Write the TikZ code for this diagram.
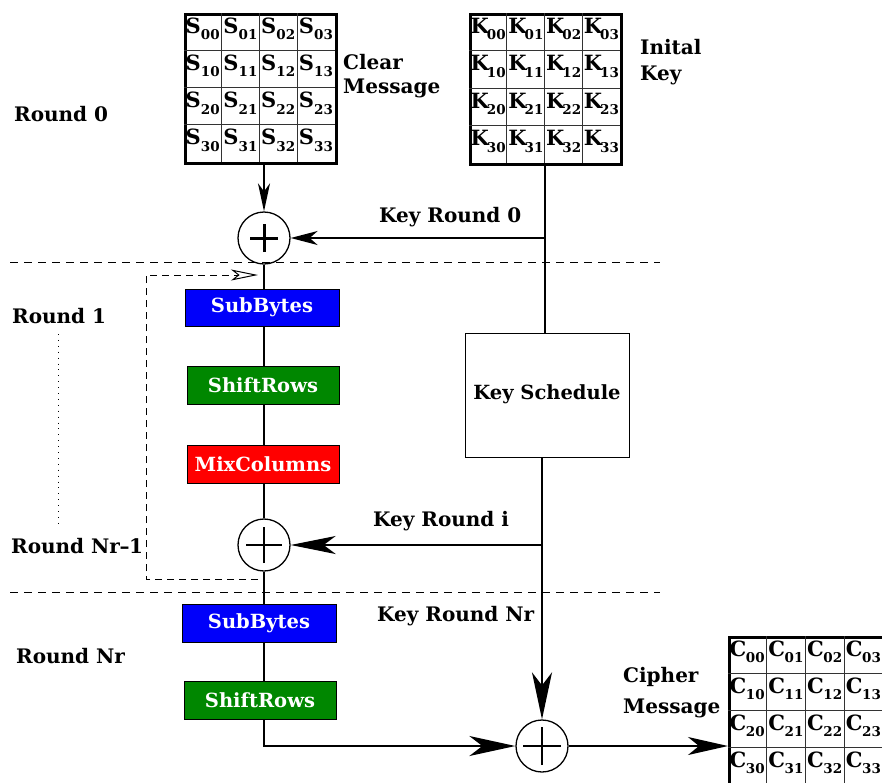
\documentclass[tikz,border=0pt]{standalone}
\usepackage{fontspec}
\setmainfont{DejaVu Serif}
\usetikzlibrary{arrows.meta,calc}

\definecolor{sbblue}{RGB}{0,0,250}
\definecolor{srgreen}{RGB}{0,135,0}
\definecolor{mcred}{RGB}{255,0,0}

\tikzset{
  lbl/.style={font=\fontsize{20}{20}\selectfont\bfseries, inner sep=0pt, anchor=base west},
  opbox/.style={draw=black, line width=0.9pt, minimum width=152pt, minimum height=38pt,
    inner sep=0pt, text=white, font=\fontsize{19.5}{19.5}\selectfont\bfseries},
  keybox/.style={draw=black, line width=0.9pt, fill=white, minimum width=164pt,
    minimum height=124pt, inner sep=0pt, font=\fontsize{19.5}{19.5}\selectfont\bfseries},
  statebox/.style={draw=black, inner sep=0pt, anchor=north west},
  gridline/.style={line width=0.9pt, black!80},
  entry/.style={inner sep=0pt, anchor=base west, font=\fontsize{21}{21}\selectfont\bfseries},
  xorcirc/.style={circle, draw, line width=1.3pt, minimum size=52pt, inner sep=0pt},
  xorplus/.style 2 args={path picture={
      \draw[line width=#2]
        ([xshift=-#1]path picture bounding box.center) -- ([xshift=#1]path picture bounding box.center)
        ([yshift=-#1]path picture bounding box.center) -- ([yshift=#1]path picture bounding box.center);}},
  flow/.style={line width=1.8pt},
  keyline/.style={line width=2pt},
  roundsep/.style={dash pattern=on 8pt off 6pt, line width=0.9pt},
  loopline/.style={dash pattern=on 7pt off 5pt, line width=0.9pt},
}

% state matrix: name, letter, left, top, cell width, cell height, border width, letter kern
\newcommand\aesstate[8]{%
  \node[statebox, line width=#7, minimum width=4*#5 pt, minimum height=4*#6 pt] (#1) at (#3,#4) {};
  \foreach \k in {1,2,3}{%
    \draw[gridline] (#3+\k*#5, #4) -- (#3+\k*#5, #4+4*#6);
    \draw[gridline] (#3, #4+\k*#6) -- (#3+4*#5, #4+\k*#6);
  }
  \foreach \r in {0,1,2,3}{%
    \foreach \c in {0,1,2,3}{%
      \node[entry] at (#3+\c*#5+1.5, #4+\r*#6+20)
        {#2\kern#8\raisebox{-6.5pt}{\fontsize{13.5}{13.5}\selectfont\bfseries\r\c}};
    }
  }
}

\begin{document}
\begin{tikzpicture}[x=1pt, y=-1pt]
  \clip (0,0) rectangle (882,782);
  \fill[white] (0,0) rectangle (882,782);

  % input, key and output states
  \aesstate{smat}{S}{184}{13}{37.75}{37.25}{2.8pt}{0pt}
  \aesstate{kmat}{K}{469}{13}{37.75}{37.5}{2.5pt}{-2pt}
  \aesstate{cmat}{C}{728}{636}{38.75}{37}{2.5pt}{-0.5pt}

  % labels
  \node[lbl] (clr)  at (343,69)  {Clear};
  \node[lbl] (msg1) at (343,93)  {Message};
  \node[lbl] (ini)  at (640,54)  {Inital};
  \node[lbl] (ikey) at (640,80)  {Key};
  \node[lbl] (kr0)  at (379,222) {Key Round 0};
  \node[lbl] (kri)  at (373,526) {Key Round i};
  \node[lbl] (krn)  at (377,621) {Key Round Nr};
  \node[lbl] (cph)  at (623,682) {Cipher};
  \node[lbl] (msg2) at (623,713) {Message};
  \node[lbl] (r0)   at (14,121)  {Round 0};
  \node[lbl] (r1)   at (12,323)  {Round 1};
  \node[lbl] (rn1)  at (11,553)  {Round Nr\kern-0.5pt–\kern-0.5pt1};
  \node[lbl] (rn)   at (16,663)  {Round Nr};

  % round separators
  \coordinate (sepAl) at (10,262);  \coordinate (sepAr) at (660,262);
  \coordinate (sepBl) at (10,592);  \coordinate (sepBr) at (660,592);
  \draw[roundsep] (sepAl) -- (sepAr);
  \draw[roundsep] (sepBl) -- (sepBr);
  \coordinate (dotT) at (58,334); \coordinate (dotB) at (58,523);
  \draw[line width=0.9pt, dash pattern=on 0.9pt off 5pt] (dotT) -- (dotB);

  % XOR operators
  \node[xorcirc, xorplus={14pt}{3pt}] (x1) at (264,238) {};
  \node[xorcirc, xorplus={18pt}{2pt}] (x2) at (264,545) {};
  \node[xorcirc, xorplus={19pt}{2pt}] (x3) at (542,746) {};

  % round transformations
  \node[opbox, fill=sbblue, minimum width=154pt, minimum height=37pt] (sb1) at (262,307.5) {\raisebox{-1.5pt}{SubBytes}};
  \node[opbox, fill=srgreen] (sr1) at (263,385) {ShiftRows};
  \node[opbox, fill=mcred]   (mc1) at (263,464) {MixColumns};
  \node[opbox, fill=sbblue, minimum width=154pt] (sb2) at (259,623) {SubBytes};
  \node[opbox, fill=srgreen] (sr2) at (260,700) {ShiftRows};

  \node[keybox] (ks) at (547,395) {\raisebox{6pt}{Key Schedule}};

  % data path
  \draw[flow, -{Stealth[length=28pt, width=12pt, inset=8pt]}] (x1 |- smat.south) -- (x1.north);
  \draw[flow] (x1.south) -- (x1 |- sb1.north);
  \draw[flow] (x1 |- sb1.south) -- (x1 |- sr1.north);
  \draw[flow] (x1 |- sr1.south) -- (x1 |- mc1.north);
  \draw[flow] (x1 |- mc1.south) -- (x2.north);
  \draw[flow] (x2.south) -- (x2 |- sb2.north);
  \draw[flow] (x2 |- sb2.south) -- (x2 |- sr2.north);
  \draw[flow, -{Stealth[length=46pt, width=20pt, inset=13pt]}] (x2 |- sr2.south) |- (x3.west);
  \draw[flow, -{Stealth[length=40pt, width=18pt, inset=11pt]}] (x3.east) -- (cmat.west |- x3.east);

  % feedback loop over rounds 1 .. Nr-1
  \coordinate (loopA) at (258,579);
  \coordinate (loopB) at (146,579);
  \coordinate (loopC) at (146,275);
  \coordinate (loopD) at (258,275);
  \draw[loopline, -{Stealth[open, length=27pt, width=11pt, inset=7pt, line width=1pt]}]
    (loopA) -- (loopB) -- (loopC) -- (loopD);

  % key path
  \coordinate (kb0) at (545,238);
  \coordinate (kbi) at (542,545);
  \draw[keyline] (kmat.south -| kb0) -- (ks.north -| kb0);
  \draw[keyline, -{Stealth[length=27pt, width=14pt, inset=8pt]}] (kb0) -- (x1.east);
  \draw[keyline, -{Stealth[length=47pt, width=20pt, inset=13pt]}] (ks.south -| x3) -- (x3.north);
  \draw[keyline, -{Stealth[length=45pt, width=18pt, inset=12pt]}] (kbi) -- (x2.east);
\end{tikzpicture}
\end{document}
